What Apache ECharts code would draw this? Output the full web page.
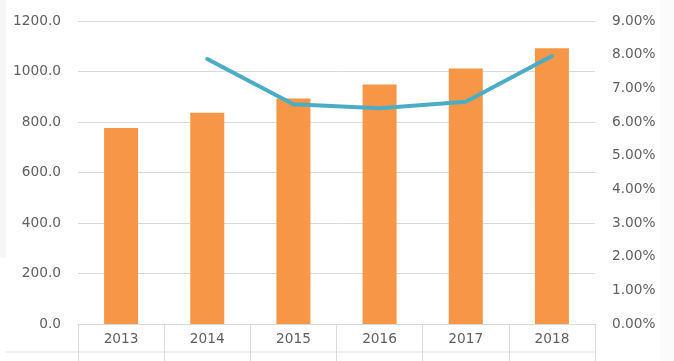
<!DOCTYPE html>
<html>
<head>
<meta charset="utf-8">
<script src="https://cdn.jsdelivr.net/npm/echarts@6/dist/echarts.min.js"></script>
<style>
html,body{margin:0;padding:0;background:#fff;}
#c{width:674px;height:361px;}
</style>
</head>
<body>
<div id="c"></div>
<script>
const categories = ['2013', '2014', '2015', '2016', '2017', '2018'];
const barValues = [776, 837, 893, 949, 1012, 1092];
const growthValues = [null, 7.87, 6.53, 6.41, 6.60, 7.96];
const leftTicks = { min: 0, max: 1200, interval: 200 };
const rightTicks = { min: 0, max: 9, interval: 1 };

const chart = echarts.init(document.getElementById('c'), null, { renderer: 'canvas' });
const labelFont = { color: '#5f5f5f', fontSize: 13.7, fontFamily: 'DejaVu Sans, sans-serif' };

chart.setOption({
  animation: false,
  backgroundColor: '#ffffff',
  grid: { left: 78, right: 79, top: 21, bottom: 37 },
  xAxis: {
    type: 'category',
    data: categories,
    boundaryGap: true,
    axisLine: { show: true, lineStyle: { color: '#d9d9d9', width: 1 } },
    axisTick: { show: true, length: 40, lineStyle: { color: '#d9d9d9', width: 1 } },
    axisLabel: Object.assign({ margin: 8 }, labelFont),
    splitLine: { show: false }
  },
  yAxis: [
    {
      type: 'value',
      min: leftTicks.min, max: leftTicks.max, interval: leftTicks.interval,
      axisLine: { show: false },
      axisTick: { show: false },
      axisLabel: Object.assign({ margin: 17, formatter: v => v.toFixed(1) }, labelFont),
      splitLine: { show: true, lineStyle: { color: '#d9d9d9', width: 1 } }
    },
    {
      type: 'value',
      min: rightTicks.min, max: rightTicks.max, interval: rightTicks.interval,
      axisLine: { show: false },
      axisTick: { show: false },
      axisLabel: Object.assign({ margin: 17, formatter: v => v.toFixed(2) + '%' }, labelFont),
      splitLine: { show: false }
    }
  ],
  series: [
    {
      type: 'bar',
      data: barValues,
      yAxisIndex: 0,
      barWidth: 34,
      itemStyle: { color: '#F79646' }
    },
    {
      type: 'line',
      data: growthValues,
      yAxisIndex: 1,
      showSymbol: false,
      symbol: 'none',
      connectNulls: false,
      lineStyle: { color: '#4BACC6', width: 4, cap: 'round', join: 'round' }
    }
  ],
  graphic: [
    {
      type: 'rect',
      shape: { x: 0, y: 0, width: 6, height: 258 },
      style: { fill: '#f6f6f6' },
      z: -1
    },
    {
      type: 'rect',
      shape: { x: 660, y: 0, width: 14, height: 361 },
      style: { fill: '#fbfbfb' },
      z: -1
    },
    {
      type: 'line',
      shape: { x1: 5, y1: 352, x2: 595, y2: 352 },
      style: { stroke: '#e0e0e0', lineWidth: 1 },
      z: 0
    }
  ]
});
</script>
</body>
</html>
